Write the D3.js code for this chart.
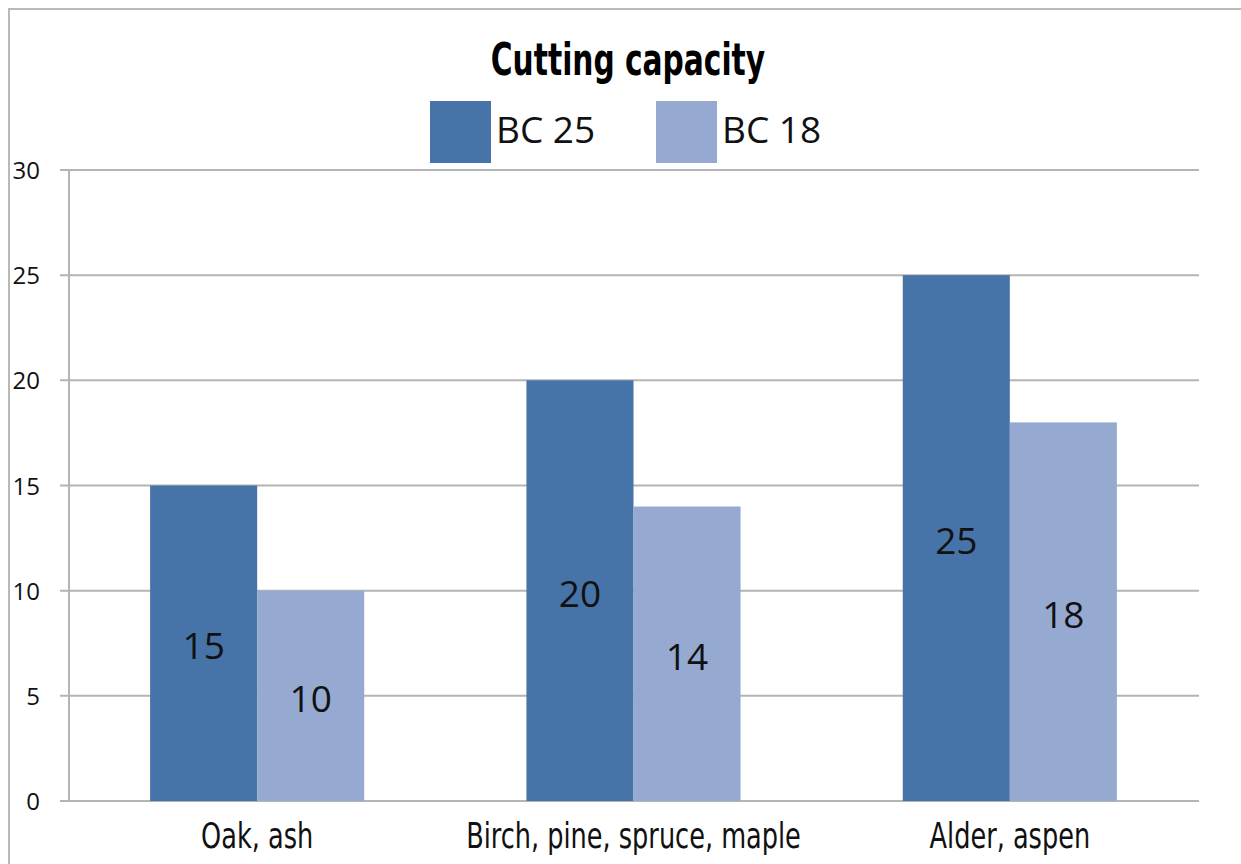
<!DOCTYPE html>
<meta charset="utf-8">
<script src="https://d3js.org/d3.v7.min.js"></script>
<style>
  body { margin: 0; background: #fff; }
  .narrow { font-family: 'DejaVu Sans Condensed', 'DejaVu Sans', sans-serif; font-stretch: condensed; }
</style>
<div id="chart"></div>
<script>
// data
var categories = ["Oak, ash", "Birch, pine, spruce, maple", "Alder, aspen"];
var seriesNames = ["BC 25", "BC 18"];
var bc25 = [15, 20, 25];
var bc18 = [10, 14, 18];
var yTicks = [0, 5, 10, 15, 20, 25, 30];
var colors = ["#4774a8", "#95a9d1"];

var W = 1241, H = 864;
var margin = {top: 170, right: 43, bottom: 63, left: 69},
  width = W - margin.left - margin.right,
  height = H - margin.top - margin.bottom;

var numFont = "'Open Sans', 'Noto Sans', sans-serif";

var svg = d3.select("#chart").append("svg")
  .attr("width", W)
  .attr("height", H);

// outer frame (only left + top visible in the crop)
svg.append("rect")
  .attr("x", 9).attr("y", 9)
  .attr("width", W + 20).attr("height", H + 20)
  .attr("fill", "none")
  .attr("stroke", "#b9b9b9")
  .attr("stroke-width", 2);

var g = svg.append("g")
  .attr("transform", "translate(" + margin.left + "," + margin.top + ")");

var x0 = d3.scaleBand()
  .domain(categories)
  .range([0, width])
  .paddingInner(0.431)
  .paddingOuter(0.2155);

var x1 = d3.scaleBand()
  .domain(seriesNames)
  .range([0, x0.bandwidth()]);

var y = d3.scaleLinear()
  .domain([0, 30])
  .range([height, 0]);

// gridlines + tick marks
g.selectAll(".grid")
  .data(yTicks)
  .enter().append("line")
    .attr("x1", -9)
    .attr("x2", width + 1)
    .attr("y1", function(d) { return y(d); })
    .attr("y2", function(d) { return y(d); })
    .attr("stroke", "#b4b4b4")
    .attr("stroke-width", 2);

// vertical axis line
g.append("line")
  .attr("x1", 0).attr("x2", 0)
  .attr("y1", 0).attr("y2", height)
  .attr("stroke", "#b4b4b4")
  .attr("stroke-width", 2);

// y tick labels
g.selectAll(".ylab")
  .data(yTicks)
  .enter().append("text")
    .attr("x", -29)
    .attr("y", function(d) { return y(d) + 9; })
    .attr("text-anchor", "end")
    .style("font-family", numFont)
    .style("font-size", "24px")
    .style("fill", "#111")
    .text(function(d) { return d; });

// bars
var rows = categories.map(function(c, i) {
  return {cat: c, values: [{s: seriesNames[0], v: bc25[i]}, {s: seriesNames[1], v: bc18[i]}]};
});

var groups = g.selectAll(".grp")
  .data(rows)
  .enter().append("g")
    .attr("transform", function(d) { return "translate(" + x0(d.cat) + ",0)"; });

groups.selectAll("rect")
  .data(function(d) { return d.values; })
  .enter().append("rect")
    .attr("x", function(d) { return x1(d.s); })
    .attr("y", function(d) { return y(d.v); })
    .attr("width", x1.bandwidth())
    .attr("height", function(d) { return height - y(d.v); })
    .attr("fill", function(d, i) { return colors[i]; });

// value labels in the middle of each bar
groups.selectAll(".val")
  .data(function(d) { return d.values; })
  .enter().append("text")
    .attr("x", function(d) { return x1(d.s) + x1.bandwidth() / 2; })
    .attr("y", function(d) { return (y(d.v) + height) / 2 + 16; })
    .attr("text-anchor", "middle")
    .style("font-family", numFont)
    .style("font-size", "37px")
    .style("fill", "#111")
    .text(function(d) { return d.v; });

// category labels (squeezed to mimic a condensed face)
g.selectAll(".xlab")
  .data(categories)
  .enter().append("text")
    .attr("class", "narrow")
    .attr("transform", function(d) {
      return "translate(" + (x0(d) + x0.bandwidth() / 2) + "," + (height + 47) + ") scale(0.79,1)";
    })
    .attr("text-anchor", "middle")
    .style("font-size", "36px")
    .style("fill", "#111")
    .text(function(d) { return d; });

// title
svg.append("text")
  .attr("class", "narrow")
  .attr("transform", "translate(628,75) scale(0.75,1)")
  .attr("text-anchor", "middle")
  .style("font-weight", "bold")
  .style("font-size", "44px")
  .style("fill", "#000")
  .text("Cutting capacity");

// legend
var legendX = [430, 656];
var legend = svg.selectAll(".leg")
  .data(seriesNames)
  .enter().append("g")
    .attr("transform", function(d, i) { return "translate(" + legendX[i] + ",101)"; });

legend.append("rect")
  .attr("width", 61)
  .attr("height", 62)
  .attr("fill", function(d, i) { return colors[i]; });

legend.append("text")
  .attr("x", 66)
  .attr("y", 42)
  .style("font-family", numFont)
  .style("font-size", "37px")
  .style("fill", "#111")
  .text(function(d) { return d; });
</script>
